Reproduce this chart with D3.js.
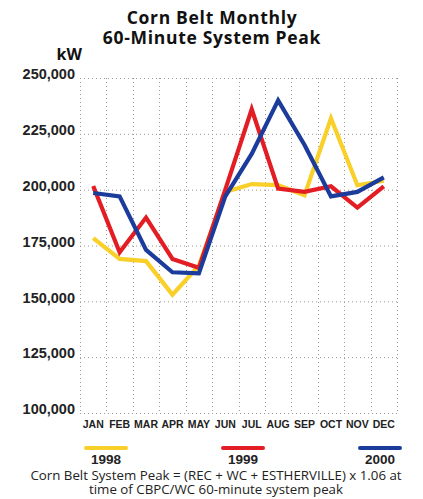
<!DOCTYPE html>
<html>
<head>
<meta charset="utf-8">
<script src="https://cdn.jsdelivr.net/npm/d3@7"></script>
<style>
  html, body { margin: 0; padding: 0; background: #fff; }
  svg { display: block; }
</style>
</head>
<body>
<svg id="chart" width="423" height="499"></svg>
<script>
// Monthly 60-minute system peak (kW) for the Corn Belt system
const months = ["JAN","FEB","MAR","APR","MAY","JUN","JUL","AUG","SEP","OCT","NOV","DEC"];
const years = ["1998", "1999", "2000"];
const peak1998 = [178300, 169000, 168000, 153000, 166000, 199000, 202500, 202000, 197500, 232000, 202000, 204000];
const peak1999 = [201600, 172000, 187500, 169000, 165000, 200000, 236000, 200500, 199000, 201500, 192000, 201500];
const peak2000 = [198500, 197000, 173000, 163000, 162500, 197000, 216000, 240000, 220000, 197000, 199000, 205500];
const yTicks = [100000, 125000, 150000, 175000, 200000, 225000, 250000];
const seriesColors = ["#F9CF2A", "#E31D24", "#1C3C9C"];

const series = [peak1998, peak1999, peak2000].map((vals, i) => ({
  name: years[i], color: seriesColors[i], values: vals
}));

const svg = d3.select("#chart");

const x = d3.scaleBand().domain(months).range([80, 397]).padding(0);
const y = d3.scaleLinear().domain([100000, 250000]).range([413, 78]);
const xc = m => x(m) + x.bandwidth() / 2;

// Two-line title as one text block
const titleLines = ["Corn Belt Monthly", "60-Minute System Peak"];
svg.append("text")
  .attr("text-anchor", "middle")
  .style("font-family", "'Open Sans', sans-serif")
  .style("font-weight", 700).style("font-size", "17.5px")
  .style("letter-spacing", "0.7px").style("fill", "#111")
  .selectAll("tspan").data(titleLines).join("tspan")
  .attr("x", 212).attr("y", (d, i) => 24 + i * 19.5)
  .text(d => d);

// Unit label
svg.append("text")
  .attr("x", 82).attr("y", 60)
  .attr("text-anchor", "end")
  .style("font-family", "'Open Sans', sans-serif")
  .style("font-weight", 700).style("font-size", "16px").style("fill", "#111")
  .text("kW");

// Dotted grid
const grid = svg.append("g").attr("stroke", "#9a9a9a").attr("stroke-width", 1)
  .attr("stroke-dasharray", "1,3");
grid.selectAll("line.h").data(yTicks).join("line")
  .attr("class", "h")
  .attr("x1", 80).attr("x2", 397)
  .attr("y1", d => y(d) + 0.5).attr("y2", d => y(d) + 0.5);
const bounds = months.map(m => x(m)).concat([x.range()[1]]);
grid.selectAll("line.v").data(bounds).join("line")
  .attr("class", "v")
  .attr("x1", d => Math.round(d) + 0.5).attr("x2", d => Math.round(d) + 0.5)
  .attr("y1", y(250000)).attr("y2", y(100000));

// Y axis labels
const yAxis = d3.axisLeft(y).tickValues(yTicks).tickSize(0).tickPadding(0)
  .tickFormat(d3.format(","));
svg.append("g").attr("transform", "translate(75,0)").call(yAxis)
  .call(g => g.select(".domain").remove())
  .call(g => g.selectAll("text")
    .attr("dy", "0.05em")
    .style("font-family", "'Liberation Sans', Arial, sans-serif")
    .style("font-weight", 700).style("font-size", "14.5px").style("fill", "#222"));

// X axis labels
const xAxis = d3.axisBottom(x).tickSize(0).tickPadding(0);
svg.append("g").attr("transform", "translate(0,421)").call(xAxis)
  .call(g => g.select(".domain").remove())
  .call(g => g.selectAll("text")
    .attr("dy", "0.71em")
    .style("font-family", "'Liberation Sans', Arial, sans-serif")
    .style("font-weight", 700).style("font-size", "10.5px").style("fill", "#222"));

// Series lines
const line = d3.line()
  .x((d, i) => xc(months[i]))
  .y(d => y(d));
svg.append("g").selectAll("path").data(series).join("path")
  .attr("d", s => line(s.values))
  .attr("fill", "none")
  .attr("stroke", s => s.color)
  .attr("stroke-width", 4.2)
  .attr("stroke-linejoin", "miter");

// Legend
const legendX = [106, 243, 380];
const legend = svg.append("g").selectAll("g").data(series).join("g")
  .attr("transform", (s, i) => `translate(${legendX[i]},0)`);
legend.append("line")
  .attr("x1", -20).attr("x2", 20).attr("y1", 448).attr("y2", 448)
  .attr("stroke", s => s.color).attr("stroke-width", 4).attr("stroke-linecap", "round");
legend.append("text")
  .attr("x", 0).attr("y", 464)
  .attr("text-anchor", "middle")
  .style("font-family", "'Liberation Sans', Arial, sans-serif")
  .style("font-weight", 700).style("font-size", "13.5px").style("fill", "#222")
  .text(s => s.name);

// Two-line footnote as one text block
const note = ["Corn Belt System Peak = (REC + WC + ESTHERVILLE) x 1.06 at",
              "time of CBPC/WC 60-minute system peak"];
svg.append("text")
  .attr("text-anchor", "middle")
  .style("font-family", "'Open Sans', sans-serif")
  .style("font-size", "13.3px").style("fill", "#222")
  .selectAll("tspan").data(note).join("tspan")
  .attr("x", 216).attr("y", (d, i) => 480 + i * 14)
  .text(d => d);
</script>
</body>
</html>
